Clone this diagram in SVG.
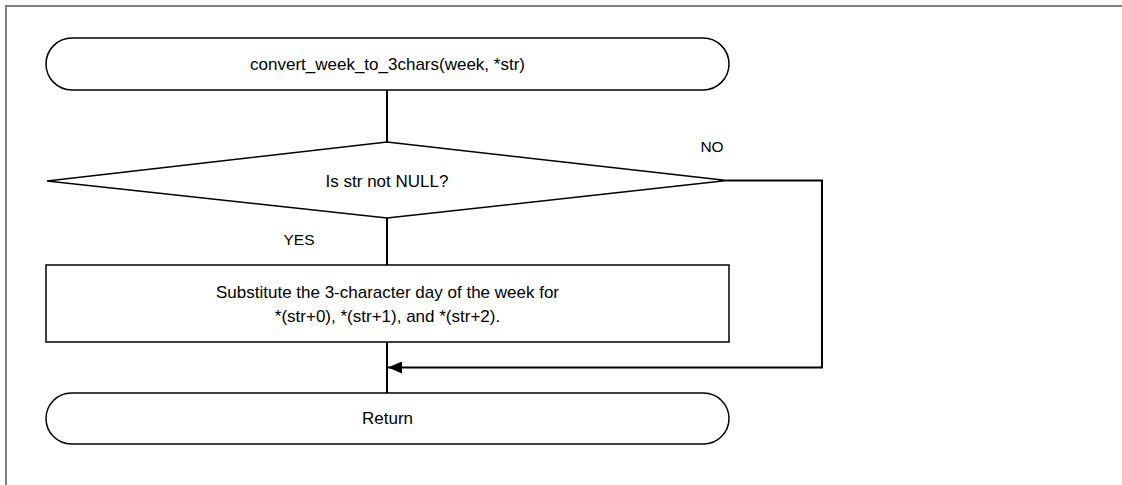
<svg xmlns="http://www.w3.org/2000/svg" width="1122" height="485" viewBox="0 0 1122 485">
<style>
.shape{fill:#fff;stroke:#000;stroke-width:1.5}
.conn{fill:none;stroke:#000;stroke-width:2}
.t{font-family:"Liberation Sans",Arial,sans-serif;font-size:17px;fill:#000;text-anchor:middle}
.lbl{font-family:"Liberation Sans",Arial,sans-serif;font-size:15.5px;fill:#000;text-anchor:middle}
</style>
<defs>
<marker id="arr" markerWidth="14" markerHeight="12" refX="14" refY="6" orient="auto" markerUnits="userSpaceOnUse">
<path d="M0,0 L14,6 L0,12 Z" fill="#000"/>
</marker>
</defs>
<rect width="1122" height="485" fill="#fff"/>
<path d="M6,485 V6 H1122" fill="none" stroke="#7f7f7f" stroke-width="2"/>
<g id="connectors">
<line class="conn" x1="387" y1="90" x2="387" y2="142"/>
<line class="conn" x1="387" y1="218" x2="387" y2="265"/>
<line class="conn" x1="387" y1="342" x2="387" y2="393"/>
<path class="conn" d="M727,180.5 H822 V367.5 H388" marker-end="url(#arr)"/>
</g>
<g id="start">
<rect class="shape" x="46" y="38" width="683" height="52" rx="26" ry="26"/>
<text class="t" x="387.5" y="70">convert_week_to_3chars(week, *str)</text>
</g>
<g id="decision">
<polygon class="shape" points="47,181 387,142 727,180.5 387,218"/>
<text class="t" x="387" y="187">Is str not NULL?</text>
<text class="lbl" x="299" y="245">YES</text>
<text class="lbl" x="712" y="152">NO</text>
</g>
<g id="process">
<rect class="shape" x="46" y="265" width="683" height="77"/>
<text class="t" x="387.5" y="298">Substitute the 3-character day of the week for</text>
<text class="t" x="387.5" y="322">*(str+0), *(str+1), and *(str+2).</text>
</g>
<g id="end">
<rect class="shape" x="46" y="393" width="683" height="51" rx="25.5" ry="25.5"/>
<text class="t" x="387.5" y="424">Return</text>
</g>
</svg>
